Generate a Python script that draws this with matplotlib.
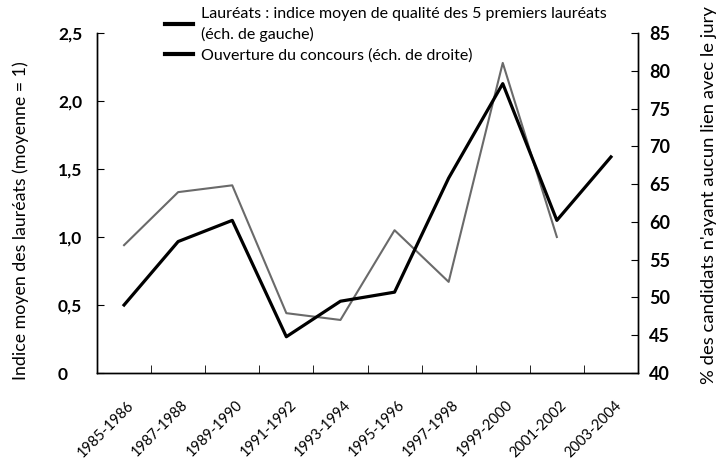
import numpy as np
import matplotlib.pyplot as plt
import matplotlib.transforms as mtransforms
from matplotlib.lines import Line2D

plt.rcParams['font.family'] = ['Lato', 'DejaVu Sans']

# periods
periodes = ["1985-1986", "1987-1988", "1989-1990", "1991-1992", "1993-1994",
            "1995-1996", "1997-1998", "1999-2000", "2001-2002", "2003-2004"]

# indice moyen de qualite des 5 premiers laureats (left scale)
laureats = [0.94, 1.33, 1.38, 0.44, 0.39, 1.05, 0.67, 2.28, 1.00, np.nan]

# % candidats sans lien avec le jury (right scale)
ouverture = [49.0, 57.4, 60.2, 44.8, 49.5, 50.7, 65.8, 78.3, 60.2, 68.6]

x = np.arange(len(periodes))

fig = plt.figure(figsize=(7.24, 4.69), dpi=100)
ax = fig.add_axes([97/724, 96/469, 541/724, 340/469])
ax2 = ax.twinx()

ax.plot(x, laureats, color="#6a6a6a", lw=1.5, zorder=2)
ax2.plot(x, ouverture, color="black", lw=2.3, zorder=3)

ax.set_xlim(-0.5, 9.5)
ax.set_ylim(0, 2.5)
ax2.set_ylim(40, 85)

# spines
for a in (ax, ax2):
    a.spines["top"].set_visible(False)
    a.spines["left"].set_linewidth(1.0)
    a.spines["right"].set_linewidth(1.0)
    a.spines["bottom"].set_linewidth(1.0)

# y ticks left
ax.set_yticks([0, 0.5, 1.0, 1.5, 2.0, 2.5])
ax.set_yticklabels(["0", "0,5", "1,0", "1,5", "2,0", "2,5"],
                   fontsize=12.5, fontweight="bold")
ax.tick_params(axis="y", direction="in", length=5, pad=28)
for lab in ax.get_yticklabels():
    lab.set_ha("left")

# y ticks right
ax2.set_yticks(range(40, 90, 5))
ax2.set_yticklabels([str(v) for v in range(40, 90, 5)],
                    fontsize=13, fontweight="bold")
ax2.tick_params(axis="y", direction="in", length=5, pad=8)

# x ticks: labels on the periods, marks at the boundaries
ax.set_xticks(x)
ax.set_xticklabels(periodes, rotation=45, ha="right", rotation_mode="anchor",
                   fontsize=10.5)
ax.tick_params(axis="x", length=0, pad=18)
shift = mtransforms.ScaledTranslation(3/100, 0, fig.dpi_scale_trans)
for lab in ax.get_xticklabels():
    lab.set_transform(lab.get_transform() + shift)
ax.set_xticks(x[:-1] + 0.5, minor=True)
ax.tick_params(axis="x", which="minor", direction="in", length=6)

ax.set_ylabel("Indice moyen des lauréats (moyenne = 1)", fontsize=12.8)
ax.yaxis.set_label_coords(-0.125, 0.447)
ax2.set_ylabel("% des candidats n'ayant aucun lien avec le jury", fontsize=13.3)
ax2.yaxis.set_label_coords(1.117, 0.524)

handles = [Line2D([], [], color="black", lw=3),
           Line2D([], [], color="black", lw=3)]
labels = ["Lauréats : indice moyen de qualité des 5 premiers lauréats\n(éch. de gauche)",
          "Ouverture du concours (éch. de droite)"]
leg = fig.legend(handles, labels, loc="upper left", bbox_to_anchor=(155/724, 1.005),
                 frameon=False, fontsize=11.5, handlelength=1.8, handletextpad=0.5,
                 labelspacing=0.4, borderaxespad=0.2)
for t in leg.get_texts():
    t.set_linespacing(1.45)

fig.savefig("out.png", dpi=100)
